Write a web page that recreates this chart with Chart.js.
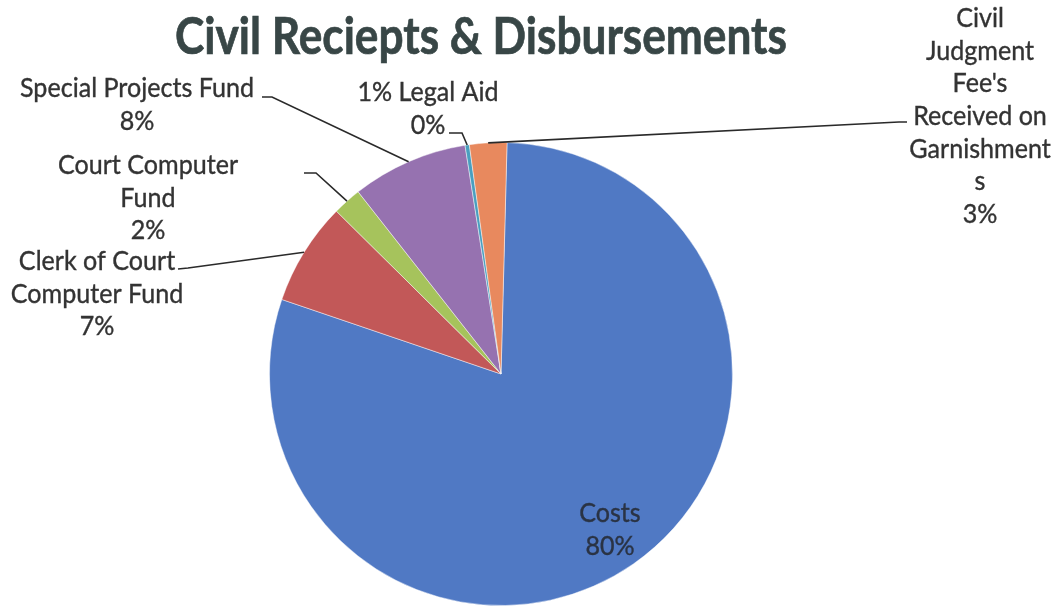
<!DOCTYPE html>
<html>
<head>
<meta charset="utf-8">
<script src="https://cdn.jsdelivr.net/npm/chart.js@4"></script>
<style>
  html, body { margin: 0; padding: 0; background: #ffffff; }
  #c { display: block; }
</style>
</head>
<body>
<canvas id="c" width="1059" height="608"></canvas>
<script>
// ---- data ----
const categories = [
  "Costs",
  "Clerk of Court Computer Fund",
  "Court Computer Fund",
  "Special Projects Fund",
  "1% Legal Aid",
  "Civil Judgment Fee's Received on Garnishments"
];
const values = [79.8, 7.2, 2.0, 8.1, 0.3, 2.6];
const sliceColors = ["#5079c4", "#c25858", "#a6c35c", "#9672b0", "#4a9fbf", "#e8895e"];
const titleText = "Civil Reciepts & Disbursements";

// ---- label layout (wrapping + placement) ----
const labelLayout = [
  { lines: ["Costs"], cx: 610, y0: 513, inside: true },
  { lines: ["Clerk of Court", "Computer Fund"], cx: 97, y0: 261, lead: [[178, 269], [188, 268]] },
  { lines: ["Court Computer", "Fund"], cx: 148, y0: 165, lead: [[304, 173], [316, 173]] },
  { lines: ["Special Projects Fund"], cx: 137, y0: 88, lead: [[262, 97], [272, 97]] },
  { lines: ["1% Legal Aid"], cx: 428, y0: 92, lead: [[449, 133], [462, 133]] },
  { lines: ["Civil", "Judgment", "Fee's", "Received on", "Garnishment", "s"], cx: 980, y0: 18, lead: [[907, 122], [899, 122]] }
];
const lineGap = 32.7;

function fitSize(ctx, text, weight, family, target) {
  ctx.font = weight + " 100px " + family;
  return 100 * target / ctx.measureText(text).width;
}

const labelPlugin = {
  id: "labels",
  afterDraw(chart) {
    const ctx = chart.ctx;
    const meta = chart.getDatasetMeta(0);
    const total = values.reduce((a, b) => a + b, 0);
    const fam = "Lato, 'Open Sans', sans-serif";
    ctx.save();
    // title
    const ts = fitSize(ctx, titleText, "bold", fam, 612);
    ctx.font = "bold " + ts.toFixed(2) + "px " + fam;
    ctx.fillStyle = "#384646";
    ctx.textAlign = "center";
    ctx.textBaseline = "alphabetic";
    ctx.save();
    ctx.translate(481, 54);
    ctx.scale(1, 1.18);
    ctx.fillText(titleText, 0, 0);
    ctx.strokeStyle = "#384646";
    ctx.lineWidth = 0.6;
    ctx.strokeText(titleText, 0, 0);
    ctx.restore();

    // labels
    const ls = fitSize(ctx, "Special Projects Fund", "normal", fam, 234);
    ctx.font = ls.toFixed(2) + "px " + fam;
    ctx.textBaseline = "middle";
    labelLayout.forEach((lab, i) => {
      const pct = Math.round(values[i] / total * 100) + "%";
      const lines = lab.lines.concat([pct]);
      const col = lab.inside ? "#2a3344" : "#333333";
      ctx.fillStyle = col;
      ctx.strokeStyle = col;
      ctx.lineWidth = 0.35;
      lines.forEach((t, k) => {
        ctx.save();
        ctx.translate(lab.cx, lab.y0 + k * lineGap);
        ctx.scale(1, 1.1);
        ctx.fillText(t, 0, 0);
        ctx.strokeText(t, 0, 0);
        ctx.restore();
      });
      if (lab.lead) {
        const arc = meta.data[i];
        const p = arc.getProps(["x", "y", "startAngle", "endAngle", "outerRadius"], true);
        const mid = (p.startAngle + p.endAngle) / 2;
        const ex = p.x + p.outerRadius * Math.cos(mid);
        const ey = p.y + p.outerRadius * Math.sin(mid);
        ctx.beginPath();
        ctx.moveTo(lab.lead[0][0], lab.lead[0][1]);
        ctx.lineTo(lab.lead[1][0], lab.lead[1][1]);
        ctx.lineTo(ex, ey);
        ctx.strokeStyle = "#2a2a2a";
        ctx.lineWidth = 1.6;
        ctx.stroke();
      }
    });
    ctx.restore();
  }
};

new Chart(document.getElementById("c"), {
  type: "pie",
  data: {
    labels: categories,
    datasets: [{
      data: values,
      backgroundColor: sliceColors,
      borderColor: "rgba(255,255,255,0.45)",
      borderWidth: 1,
      hoverOffset: 0
    }]
  },
  options: {
    responsive: false,
    animation: false,
    rotation: 1.5,
    layout: { padding: { left: 269, right: 326, top: 142, bottom: 2 } },
    plugins: { legend: { display: false }, tooltip: { enabled: false }, title: { display: false } }
  },
  plugins: [labelPlugin]
});
</script>
</body>
</html>
